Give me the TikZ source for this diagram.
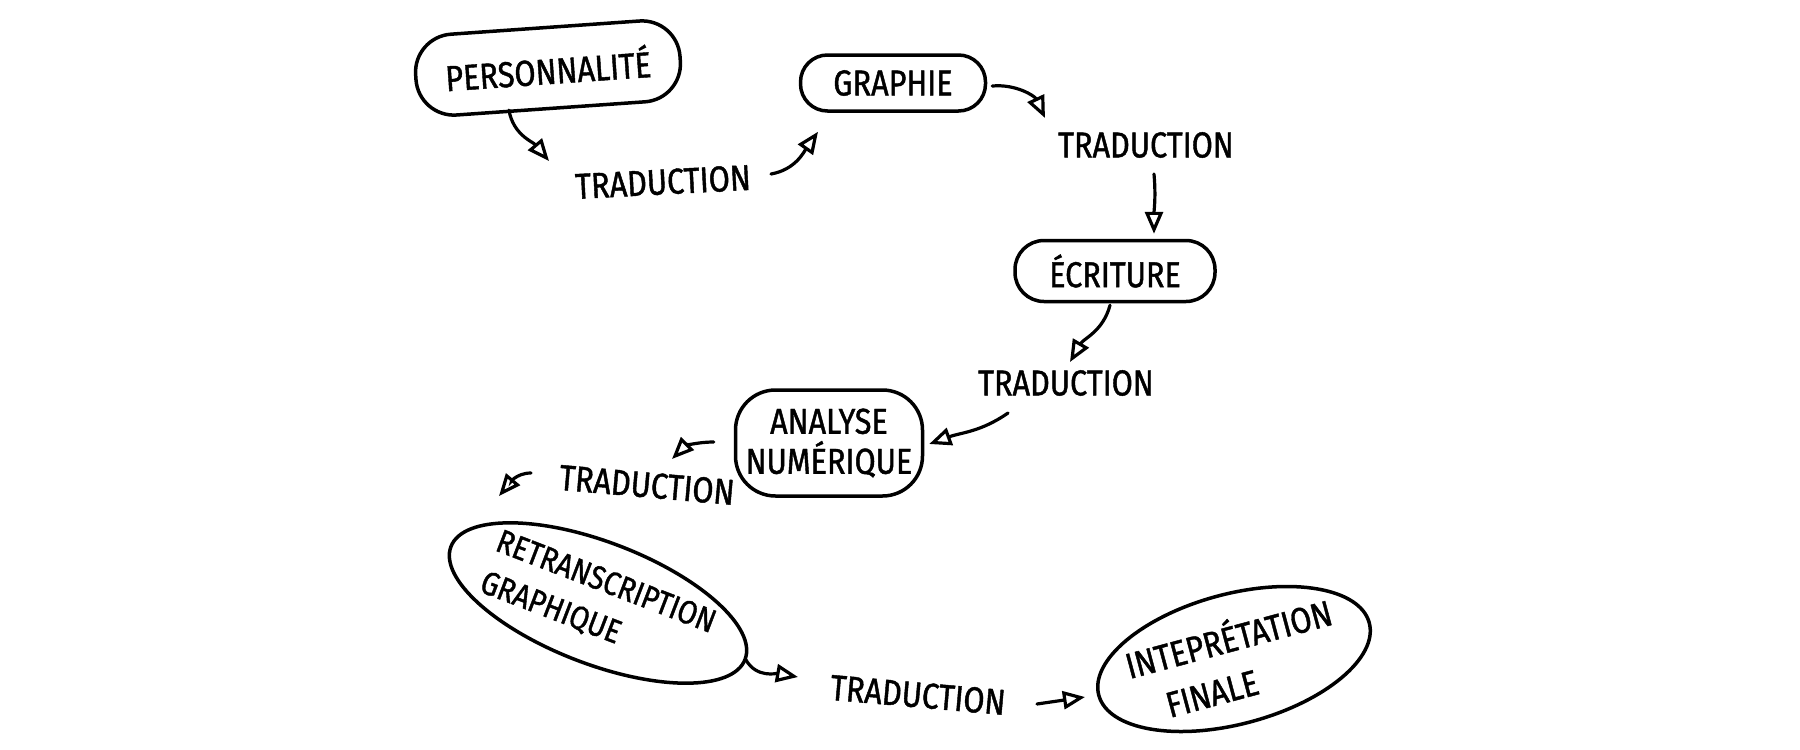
\documentclass[tikz,border=0pt]{standalone}
\usepackage{fontspec}
\newfontfamily\hand{Fira Sans}[FakeStretch=0.85,FakeBold=1.2]
\usetikzlibrary{arrows.meta,shapes.geometric}
\begin{document}
\begin{tikzpicture}[x=1pt,y=-1pt,
  box/.style={draw, line width=3.5pt, inner sep=0pt, align=center,
    font=\hand\fontsize{36}{40}\selectfont},
  oval/.style={draw, ellipse, line width=3.5pt, inner xsep=-60pt, inner ysep=-10pt},
  word/.style={font=\hand\fontsize{36}{40}\selectfont, inner sep=2pt},
  arr/.style={line width=3.2pt, line cap=round, -{Triangle[open,length=22pt,width=18pt]}}
]
\fill[white] (0,0) rectangle (1800,750);
\useasboundingbox (0,0) rectangle (1800,750);

% nodes
\node[box, rounded corners=38pt, minimum width=265pt, minimum height=81pt, rotate=4] (pers) at (548,68) {PERSONNALITÉ};
\node[box, rounded corners=27pt, minimum width=185pt, minimum height=56pt] (graphie) at (893,83) {GRAPHIE};
\node[box, rounded corners=29pt, minimum width=200pt, minimum height=61pt] (ecriture) at (1115,271) {ÉCRITURE};
\node[box, rounded corners=40pt, minimum width=187pt, minimum height=106pt] (analyse) at (829,443) {ANALYSE\\NUMÉRIQUE};
\node[oval, minimum width=315pt, minimum height=122pt, rotate=-21, align=left,
  font=\hand\fontsize{33}{44}\selectfont] (retrans) at (598,603) {RETRANSCRIPTION\\GRAPHIQUE};
\node[oval, minimum width=280pt, minimum height=130pt, rotate=15, align=center,
  font=\hand\fontsize{36}{48}\selectfont] (interp) at (1234,659) {INTEPRÉTATION\\FINALE\rule{60pt}{0pt}};

\node[word, rotate=3] (trad1) at (663,182) {TRADUCTION};
\node[word] (trad2) at (1146,145) {TRADUCTION};
\node[word] (trad3) at (1066,383) {TRADUCTION};
\node[word, rotate=-5] (trad4) at (647,485) {TRADUCTION};
\node[word, rotate=-5] (trad5) at (918,695) {TRADUCTION};

% connectors
\draw[arr] ([xshift=-42pt]pers.south) to[out=-80,in=130] ([shift={(-114pt,21pt)}]trad1.center);
\draw[arr] ([shift={(108pt,8pt)}]trad1.center) to[out=10,in=-125] ([shift={(-75pt,-19pt)}]graphie.south);
\draw[arr] ([shift={(5pt,-3pt)}]graphie.east) to[out=5,in=115] ([shift={(-101pt,27pt)}]trad2.center);
\draw[arr] ([shift={(8pt,-29pt)}]trad2.center) to[out=-85,in=90] ([shift={(39pt,5pt)}]ecriture.north);
\draw[arr] ([shift={(-5pt,-2pt)}]ecriture.south) to[out=-105,in=60] ([shift={(4pt,21pt)}]trad3.center);
\draw[arr] ([shift={(-58pt,-30pt)}]trad3.center) to[out=-145,in=20] ([shift={(5pt,-1pt)}]analyse.east);
\draw[arr] ([shift={(-20pt,1pt)}]analyse.west) to[out=180,in=45] ([shift={(25pt,26pt)}]trad4.center);
\draw[arr] ([shift={(-116pt,12pt)}]trad4.center) to[out=180,in=50] ([shift={(-99pt,107pt)}]retrans.center);
\draw[arr] ([shift={(148pt,-57pt)}]retrans.center) to[out=-60,in=170] ([shift={(-120pt,18pt)}]trad5.center);
\draw[arr] ([shift={(119pt,-9pt)}]trad5.center) -- ([shift={(-149pt,-38pt)}]interp.center);
\end{tikzpicture}
\end{document}
